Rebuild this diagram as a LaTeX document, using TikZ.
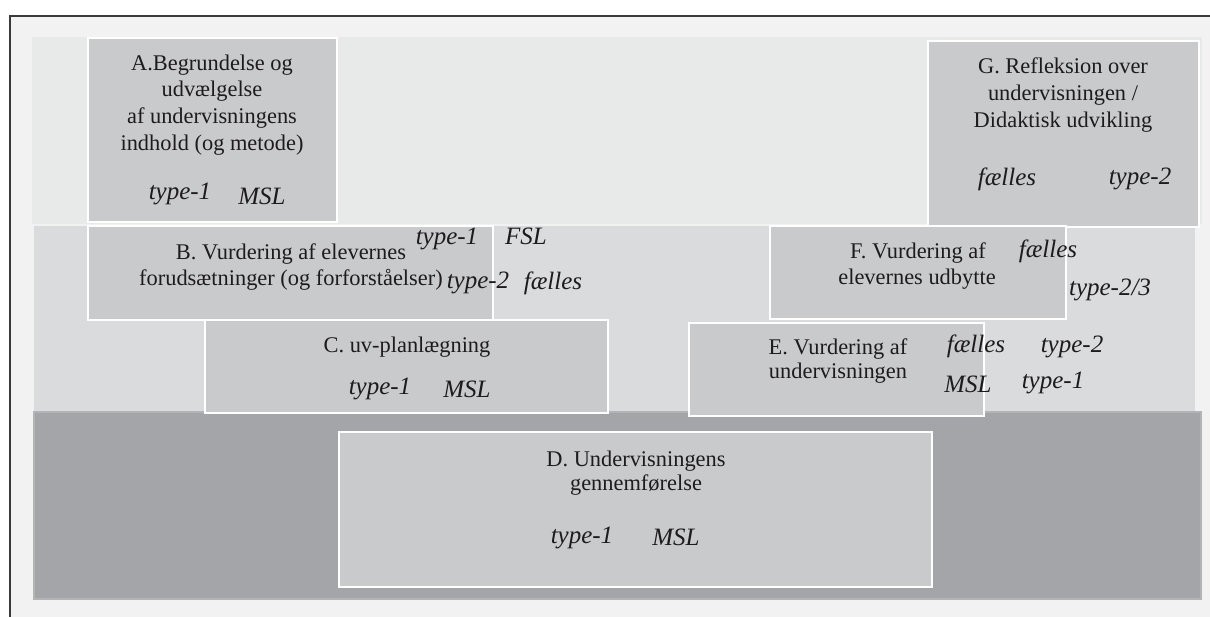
\documentclass[tikz,border=0pt]{standalone}
\usepackage{fontspec}
\setmainfont{Liberation Serif}
\definecolor{framebg}{HTML}{F2F2F2}
\definecolor{framecol}{HTML}{3A3A3A}
\definecolor{bandtop}{HTML}{E8E9E9}
\definecolor{bandmid}{HTML}{DADBDC}
\definecolor{banddark}{HTML}{A4A5A8}
\definecolor{banddarkrim}{HTML}{B3B4B6}
\definecolor{boxgray}{HTML}{C9CACC}
\definecolor{ink}{HTML}{1E1B1C}
\tikzset{
  stage/.style={fill=boxgray, draw=white, line width=1.2pt},
  rm/.style={anchor=base, inner sep=0pt, text=ink, font=\fontsize{16.8}{19.5}\selectfont},
  it/.style={anchor=base, inner sep=0pt, text=ink, font=\fontsize{18.75}{22}\selectfont\itshape},
}
\begin{document}
\begin{tikzpicture}[x=0.75pt, y=-0.75pt]
\useasboundingbox (0,0) rectangle (1210,617);
\fill[white] (0,0) rectangle (1210,617);
% frame
\fill[framebg] (10,16) rectangle (1210,617);
\draw[framecol, line width=1.1pt] (10,617) -- (10,16) -- (1210,16);
% background bands
\fill[bandtop] (32,37) rectangle (1202,224);
\path[fill=bandmid, draw=white!60!bandmid, line width=0.6pt] (33,225) rectangle (1195,411);
\path[fill=banddark, draw=banddarkrim, line width=1.5pt] (34,412) rectangle (1201,599);
% stage boxes
\path[stage] (88,38) rectangle (337,222);
\path[stage] (928,41) rectangle (1199,227);
\path[stage] (88,226) rectangle (493,320);
\path[stage] (770,226) rectangle (1066,319);
\path[stage] (205,320) rectangle (608,413);
\path[stage] (689,323) rectangle (984,416);
\path[stage] (339,432) rectangle (932,587);

% A
\node[rm] (a1) at (212,71) {A.Begrundelse og};
\node[rm] (a2) at (212,97) {udvælgelse};
\node[rm] (a3) at (212,123.5) {af undervisningens};
\node[rm] (a4) at (212,150) {indhold (og metode)};
\node[it] (at) at (180,199) {type-1};
\node[it] (am) at (262,204) {MSL};
% G
\node[rm] (g1) at (1063,74) {G. Refleksion over};
\node[rm] (g2) at (1063,100.5) {undervisningen /};
\node[rm] (g3) at (1063,127.5) {Didaktisk udvikling};
\node[it] (gf) at (1007,185) {fælles};
\node[it] (gt) at (1140,184) {type-2};
% B
\node[rm] (b1) at (291,259) {B. Vurdering af elevernes};
\node[rm] (b2) at (291,285) {forudsætninger (og forforståelser)};
\node[it] (bt1) at (447,244) {type-1};
\node[it] (bs) at (526,244) {FSL};
\node[it] (bt2) at (478,288) {type-2};
\node[it] (bf) at (553,289) {fælles};
% C
\node[rm] (c1) at (407,352) {C. uv-planlægning};
\node[it] (ct) at (380,394) {type-1};
\node[it] (cm) at (467,397) {MSL};
% D
\node[rm] (d1) at (636,466) {D. Undervisningens};
\node[rm] (d2) at (636,490) {gennemførelse};
\node[it] (dt) at (582,543) {type-1};
\node[it] (dm) at (676,545) {MSL};
% E
\node[rm] (e1) at (838,354) {E. Vurdering af};
\node[rm] (e2) at (838,378) {undervisningen};
\node[it] (ef) at (976,352) {fælles};
\node[it] (et2) at (1072,352) {type-2};
\node[it] (em) at (968,392) {MSL};
\node[it] (et1) at (1053,388) {type-1};
% F
\node[rm] (f1) at (918,258) {F. Vurdering af};
\node[rm] (f2) at (917,284) {elevernes udbytte};
\node[it] (ff) at (1048,257) {fælles};
\node[it] (ft) at (1110,295) {type-2/3};
\end{tikzpicture}
\end{document}
